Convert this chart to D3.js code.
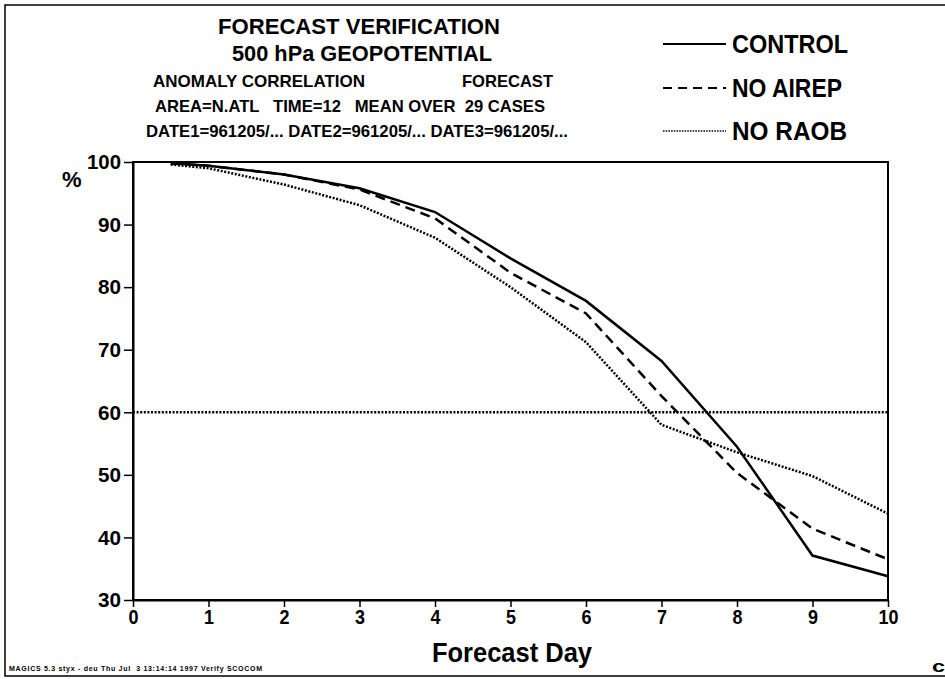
<!DOCTYPE html>
<html>
<head>
<meta charset="utf-8">
<script src="https://cdn.jsdelivr.net/npm/d3@7"></script>
<style>
  body { margin: 0; background: #fff; }
  text { font-family: "Liberation Sans", Arial, Helvetica, sans-serif; font-weight: bold; fill: #000; }
</style>
</head>
<body>
<div id="chart"></div>
<script>
// Forecast days and anomaly correlation (%).
const days = [0.5, 1, 2, 3, 4, 5, 6, 7, 8, 9, 10];
const control = [99.8, 99.4, 98.0, 95.8, 92.0, 84.6, 77.8, 68.2, 54.5, 37.1, 33.8];
const noAirep = [99.8, 99.4, 98.0, 95.6, 91.0, 82.3, 75.8, 62.6, 50.3, 41.4, 36.5];
const noRaob = [99.6, 99.0, 96.4, 93.1, 87.9, 80.0, 71.2, 58.0, 53.6, 49.8, 43.8];
const refLevel = 60;

const seriesNames = ["CONTROL", "NO AIREP", "NO RAOB"];
const xTicks = [0, 1, 2, 3, 4, 5, 6, 7, 8, 9, 10];
const yTicks = [30, 40, 50, 60, 70, 80, 90, 100];

const titleLines = ["FORECAST VERIFICATION", "500 hPa GEOPOTENTIAL"];
const footer = "MAGICS 5.3 styx - deu Thu Jul  3 13:14:14 1997 Verify SCOCOM";

const width = 945, height = 679;
const plot = { left: 133, right: 888, top: 162, bottom: 600 };

const svg = d3.select("#chart").append("svg")
  .attr("width", width)
  .attr("height", height);

// Page frame (top, left, bottom).
svg.append("path")
  .attr("d", `M945,5 H5 V676 H945`)
  .attr("fill", "none")
  .attr("stroke", "#000")
  .attr("stroke-width", 1.5);

const x = d3.scaleLinear().domain([0, 10]).range([plot.left, plot.right]);
const y = d3.scaleLinear().domain([30, 100]).range([plot.bottom, plot.top]);

// Axes.
const xAxis = svg.append("g")
  .attr("transform", `translate(0,${plot.bottom})`)
  .call(d3.axisBottom(x).tickValues(xTicks).tickSize(7).tickSizeOuter(0).tickPadding(2));
xAxis.selectAll("text")
  .attr("font-size", 21).attr("font-family", null)
  .attr("textLength", d => d >= 10 ? 20 : 10)
  .attr("lengthAdjust", "spacingAndGlyphs");

const yAxis = svg.append("g")
  .attr("transform", `translate(${plot.left},0)`)
  .call(d3.axisLeft(y).tickValues(yTicks).tickSize(9).tickSizeOuter(0).tickPadding(3));
yAxis.selectAll("text")
  .attr("font-size", 21).attr("font-family", null)
  .attr("textLength", d => d >= 100 ? 34 : 23)
  .attr("lengthAdjust", "spacingAndGlyphs");

svg.selectAll(".tick line").attr("stroke-width", 1.5);
svg.selectAll(".domain").attr("stroke-width", 2);

// Plot frame.
svg.append("rect")
  .attr("x", plot.left).attr("y", plot.top)
  .attr("width", plot.right - plot.left)
  .attr("height", plot.bottom - plot.top)
  .attr("fill", "none")
  .attr("stroke", "#000")
  .attr("stroke-width", 2);

// Reference line at 60 %.
svg.append("line")
  .attr("x1", x(0)).attr("x2", x(10))
  .attr("y1", y(refLevel)).attr("y2", y(refLevel))
  .attr("stroke", "#000")
  .attr("stroke-width", 2.5)
  .attr("stroke-dasharray", "2,1.6");

const styles = [
  { values: control, dash: null },
  { values: noAirep, dash: "10,6" },
  { values: noRaob, dash: "2,1.6" }
];

const line = d3.line()
  .x(d => x(d[0]))
  .y(d => y(d[1]));

styles.forEach(s => {
  svg.append("path")
    .datum(days.map((d, i) => [d, s.values[i]]))
    .attr("d", line)
    .attr("fill", "none")
    .attr("stroke", "#000")
    .attr("stroke-width", 2.5)
    .attr("stroke-dasharray", s.dash);
});

// Titles (condensed like the original plotter font).
function label(xPos, yPos, size, len, str, anchor) {
  return svg.append("text")
    .attr("x", xPos).attr("y", yPos)
    .attr("font-size", size)
    .attr("text-anchor", anchor || "start")
    .attr("textLength", len)
    .attr("lengthAdjust", "spacingAndGlyphs")
    .attr("xml:space", "preserve")
    .text(str);
}

label(218, 34, 22.5, 282, titleLines[0]);
label(232, 61, 22.5, 260, titleLines[1]);
label(153, 87, 17, 212, "ANOMALY CORRELATION");
label(462, 87, 17, 91, "FORECAST");
label(155, 112, 17, 390, "AREA=N.ATL   TIME=12   MEAN OVER  29 CASES");
label(146, 137, 17, 422, "DATE1=961205/... DATE2=961205/... DATE3=961205/...");

// Legend.
const legendY = [44, 88, 131];
const legendLen = [116, 110, 115];
styles.forEach((s, i) => {
  svg.append("line")
    .attr("x1", 663).attr("x2", 726)
    .attr("y1", legendY[i]).attr("y2", legendY[i])
    .attr("stroke", "#000")
    .attr("stroke-width", i === 2 ? 1.5 : 2)
    .attr("stroke-dasharray", i === 1 ? "9,6" : i === 2 ? "1.5,1.2" : null);
  label(732, legendY[i] + 9, 25, legendLen[i], seriesNames[i]);
});

// Axis titles.
svg.append("text").attr("x", 62).attr("y", 187)
  .attr("font-size", 22).text("%");
label(432, 662, 27, 160, "Forecast Day");

// Footer stamp.
svg.append("text").attr("x", 9).attr("y", 671)
  .attr("font-size", 7).attr("textLength", 253)
  .attr("xml:space", "preserve").text(footer);
label(932, 672, 17, 13, "c");
</script>
</body>
</html>
